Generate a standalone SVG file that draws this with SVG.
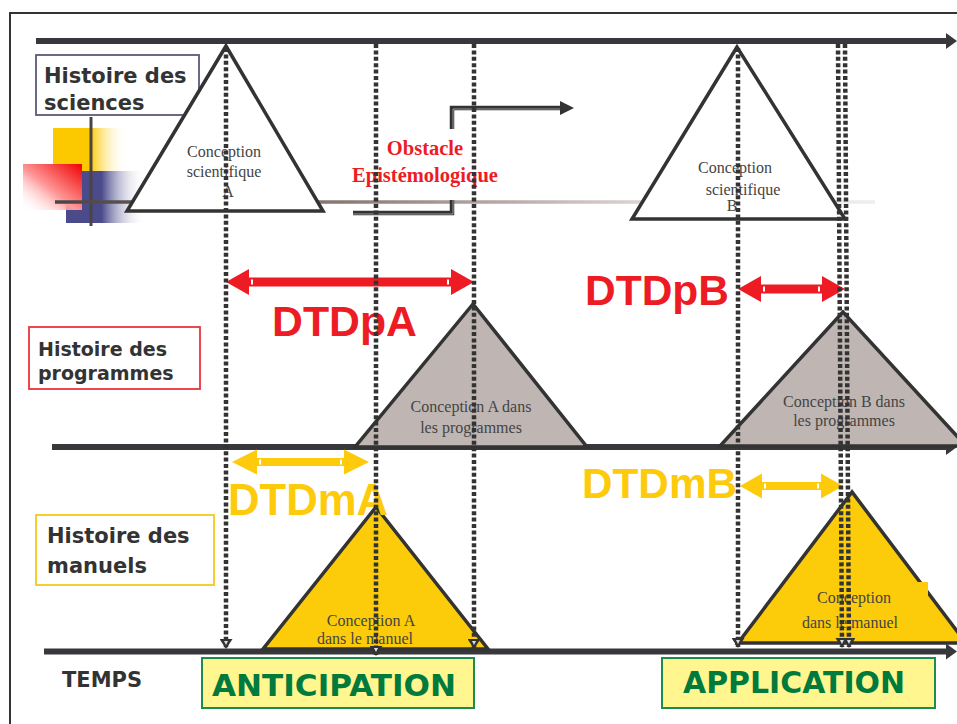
<svg xmlns="http://www.w3.org/2000/svg" width="957" height="724" viewBox="0 0 957 724">
<defs>
<style>
.axis{stroke:#38383c;stroke-width:6;fill:none}
.ahead{fill:#38383c}
.box{fill:#fff;stroke-width:1.8}
.lbl{font-family:"DejaVu Sans",Verdana,sans-serif;font-weight:bold;fill:#333}
.tri{stroke:#333;stroke-width:3.5;stroke-linejoin:miter}
.ser{font-family:"Liberation Serif","Times New Roman",serif;font-size:16px;fill:#444;text-anchor:middle}
.dot{stroke:#333;stroke-width:4.5;stroke-dasharray:4 2.4;fill:none}
.dtd{font-family:"Liberation Sans",Arial,sans-serif;font-weight:bold}
.red{fill:#ed1c24}
.yel{fill:#fdca0c}
.obs{font-family:"Liberation Serif","Times New Roman",serif;font-weight:bold;font-size:20.5px;fill:#ed1c24;text-anchor:middle}
.big{font-family:"DejaVu Sans",Verdana,sans-serif;font-weight:bold;font-size:30px;fill:#007a3d}
.gbox{fill:#fff68f;stroke:#1e8c4e;stroke-width:2}
</style>
<linearGradient id="gYel" x1="0" y1="0" x2="1" y2="0"><stop offset="0" stop-color="#fcc800"/><stop offset="0.5" stop-color="#fcc800"/><stop offset="1" stop-color="#fff" stop-opacity="0"/></linearGradient>
<linearGradient id="gRed" x1="1" y1="0" x2="0" y2="1"><stop offset="0" stop-color="#f00000"/><stop offset="0.55" stop-color="#ff9a9a"/><stop offset="1" stop-color="#fff" stop-opacity="0"/></linearGradient>
<linearGradient id="gBlue" x1="0" y1="0" x2="1" y2="0"><stop offset="0" stop-color="#4b4b8c"/><stop offset="0.45" stop-color="#4b4b8c"/><stop offset="1" stop-color="#fff" stop-opacity="0"/></linearGradient>
<linearGradient id="gLine" gradientUnits="userSpaceOnUse" x1="55" y1="0" x2="875" y2="0"><stop offset="0" stop-color="#4a4444"/><stop offset="0.35" stop-color="#8a7a76"/><stop offset="0.72" stop-color="#ddd5d3"/><stop offset="1" stop-color="#eeeeee"/></linearGradient>
<marker id="dArr" viewBox="0 0 10 13" refX="9" refY="6.5" markerWidth="10" markerHeight="13" markerUnits="userSpaceOnUse" orient="auto"><path d="M0,0 L10,6.5 L0,13 Z" fill="#333"/><path d="M2,4.5 L6,6.5 L2,8.5 Z" fill="#ddd"/></marker>
</defs>
<rect width="957" height="724" fill="#fff"/>
<path d="M10 724 V13 H957" fill="none" stroke="#333" stroke-width="2"/>

<g id="axes">
<line class="axis" x1="36" y1="41" x2="948" y2="41"/><polygon class="ahead" points="946,33 957,41 946,49"/>
<line class="axis" x1="52" y1="447" x2="948" y2="447"/><polygon class="ahead" points="946,439 957,447 946,455"/>
<line class="axis" x1="44" y1="651.5" x2="948" y2="651.5"/><polygon class="ahead" points="946,643.5 957,651.5 946,659.5"/>
</g>

<g id="logo">
<rect x="53" y="128" width="74" height="43" fill="url(#gYel)"/>
<rect x="66" y="171" width="79" height="52" fill="url(#gBlue)"/>
<rect x="23" y="164" width="59" height="46" fill="url(#gRed)"/>
<line x1="91" y1="117" x2="91" y2="226" stroke="#4a4444" stroke-width="3"/>
<line x1="55" y1="202" x2="875" y2="202" stroke="url(#gLine)" stroke-width="3.5"/>
</g>

<g id="box-sciences">
<rect class="box" x="36" y="55" width="163" height="60" stroke="#5a5a7a"/>
<text class="lbl" font-size="21" x="44" y="83">Histoire des</text>
<text class="lbl" font-size="21" x="44" y="110">sciences</text>
</g>
<g id="box-programmes">
<rect class="box" x="29" y="327" width="171" height="62" stroke="#e8343c"/>
<text class="lbl" font-size="19" x="38" y="356">Histoire des</text>
<text class="lbl" font-size="19" x="38" y="380">programmes</text>
</g>
<g id="box-manuels">
<rect class="box" x="36" y="515" width="178" height="70" stroke="#f8c81c" stroke-width="2"/>
<text class="lbl" font-size="21" x="47" y="543">Histoire des</text>
<text class="lbl" font-size="21" x="47" y="573">manuels</text>
</g>
<g id="temps"><text class="lbl" font-size="21" x="62" y="687">TEMPS</text></g>

<g id="obstacle">
<path d="M353 213 H452 V200 M452 129 V108 H562" fill="none" stroke="#333" stroke-width="4.5"/>
<path d="M353 214 H453 V200 M453 129 V109 H562" fill="none" stroke="#9a9a9a" stroke-width="1"/>
<polygon points="560,101 574,108 560,115" fill="#333"/>
<text class="obs" x="425" y="155">Obstacle</text>
<text class="obs" x="425" y="182">Epistémologique</text>
</g>

<g id="sci-A">
<polygon class="tri" points="226,46 127,211 323,211" fill="#fff"/>
<text class="ser" x="224" y="157">Conception</text>
<text class="ser" x="224" y="177">scientifique</text>
<text class="ser" x="228" y="197">A</text>
</g>
<g id="sci-B">
<polygon class="tri" points="737,47 632,219 845,219" fill="#fff"/>
<text class="ser" x="735" y="173">Conception</text>
<text class="ser" x="743" y="195">scientifique</text>
<text class="ser" x="732" y="211">B</text>
</g>
<g id="prog-A">
<polygon class="tri" points="473,304 355,447 587,447" fill="#bfb6b3"/>
<text class="ser" x="471" y="412">Conception A dans</text>
<text class="ser" x="471" y="433">les programmes</text>
</g>
<g id="prog-B">
<polygon class="tri" points="843,312 720,446 966,446" fill="#bfb6b3"/>
<text class="ser" x="844" y="407">Conception B dans</text>
<text class="ser" x="844" y="426">les programmes</text>
</g>
<g id="man-A">
<polygon class="tri" points="376,507 263,649 488,649" fill="#fccc0a"/>
<text class="ser" x="371" y="626">Conception A</text>
<text class="ser" x="365" y="644">dans le manuel</text>
</g>
<g id="man-B">
<polygon class="tri" points="852,492 738,643 966,643" fill="#fccc0a"/>
<rect x="918" y="582" width="10" height="16" fill="#fccc0a"/>
<text class="ser" x="854" y="603">Conception</text>
<text class="ser" x="850" y="628">dans le manuel</text>
</g>

<g id="dtdpA">
<polygon class="red" points="226,282 249,269 249,277.5 451,277.5 451,269 474,282 451,295 451,286.5 249,286.5 249,295"/>
<rect x="251" y="279.5" width="2" height="5" fill="#fff"/><rect x="447" y="279.5" width="2" height="5" fill="#fff"/>
<text class="dtd red" x="272" y="336" font-size="42" textLength="145" lengthAdjust="spacingAndGlyphs">DTDpA</text>
</g>
<g id="dtdpB">
<polygon class="red" points="738,289 761,276 761,284.5 822,284.5 822,276 845,289 822,302 822,293.5 761,293.5 761,302"/>
<rect x="763" y="286.5" width="2" height="5" fill="#fff"/><rect x="818" y="286.5" width="2" height="5" fill="#fff"/>
<text class="dtd red" x="585" y="305" font-size="42" textLength="144" lengthAdjust="spacingAndGlyphs">DTDpB</text>
</g>
<g id="dtdmA">
<polygon class="yel" points="232,462 257,449.5 257,458 344,458 344,449.5 369,462 344,474.5 344,466 257,466 257,474.5"/>
<rect x="259" y="459.5" width="2" height="5" fill="#fff"/><rect x="340" y="459.5" width="2" height="5" fill="#fff"/>
<text class="dtd yel" x="228" y="515" font-size="44" textLength="160" lengthAdjust="spacingAndGlyphs">DTDmA</text>
</g>
<g id="dtdmB">
<polygon class="yel" points="740,486 762,473.5 762,482 821,482 821,473.5 843,486 821,498.5 821,490 762,490 762,498.5"/>
<rect x="764" y="483.5" width="2" height="5" fill="#fff"/><rect x="817" y="483.5" width="2" height="5" fill="#fff"/>
<text class="dtd yel" x="582" y="498" font-size="42" textLength="155" lengthAdjust="spacingAndGlyphs">DTDmB</text>
</g>

<g id="connectors">
<line class="dot" x1="226" y1="48" x2="226" y2="648" marker-end="url(#dArr)"/>
<line class="dot" x1="376" y1="44" x2="376" y2="655" marker-end="url(#dArr)"/>
<line class="dot" x1="474" y1="44" x2="474" y2="648" marker-end="url(#dArr)"/>
<line class="dot" x1="738" y1="48" x2="738" y2="647" marker-end="url(#dArr)"/>
<line class="dot" x1="838" y1="44" x2="842" y2="647" marker-end="url(#dArr)"/>
<line class="dot" x1="845" y1="44" x2="849" y2="647" marker-end="url(#dArr)"/>
</g>

<g id="anticipation">
<rect class="gbox" x="202" y="658" width="272" height="50"/>
<text class="big" x="212" y="696" textLength="244" lengthAdjust="spacingAndGlyphs">ANTICIPATION</text>
</g>
<g id="application">
<rect class="gbox" x="662" y="658" width="273" height="50"/>
<text class="big" x="683" y="693" textLength="222" lengthAdjust="spacingAndGlyphs">APPLICATION</text>
</g>
</svg>
